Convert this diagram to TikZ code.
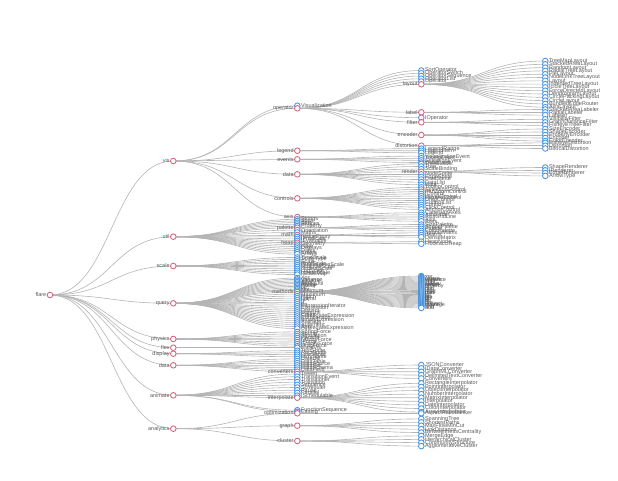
\documentclass[tikz,border=0pt]{standalone}
\usepackage{fontspec}
\setmainfont{Liberation Sans}
\usetikzlibrary{calc}
\pgfdeclarelayer{bg}
\pgfsetlayers{bg,main}
\definecolor{linkc}{HTML}{B4B4B4}
\definecolor{innerc}{HTML}{D9627C}
\definecolor{leafc}{HTML}{4A94DE}
\definecolor{txtc}{HTML}{5A5A5A}
\tikzset{
 treenode/.style={circle, inner sep=0pt, minimum size=5.6pt, line width=0.85pt, fill=white, label distance=0.8pt},
 inode/.style={treenode, draw=innerc},
 lnode/.style={treenode, draw=leafc},
 lab/.style={font=\fontsize{5.5}{6.5}\selectfont, text=txtc, inner sep=0.3pt},
 link/.style={draw=linkc, line width=0.6pt},
}
\newcommand\lnk[2]{\draw[link] let \p1=(#1.center),\p2=(#2.center) in (\p1) .. controls ({(\x1+\x2)/2},\y1) and ({(\x1+\x2)/2},\y2) .. (\p2);}
\newcommand\NIdraw[5]{\node[inode,label={[lab]left:#5}] (#1) at (#3,#4) {};}
\newcommand\NLdraw[5]{\node[lnode,label={[lab]right:#5}] (#1) at (#3,#4) {};}
\newcommand\LinkOnly[5]{\lnk{#2}{#1}}
\newcommand\Kids[5]{\foreach \nm [count=\ii from 0] in {#5} {\NL{#1-\nm}{#1}{#2}{#3+#4*\ii}{\nm}}}
\newcommand\TreeData{%
% depth 1
\NI{vis}{flare}{173.3}{161}{vis}
\NI{util}{flare}{173.3}{236.7}{util}
\NI{scale}{flare}{173.3}{266}{scale}
\NI{query}{flare}{173.3}{303.3}{query}
\NI{physics}{flare}{173.3}{339}{physics}
\NI{flex}{flare}{173.3}{347.7}{flex}
\NI{display}{flare}{173.3}{353.7}{display}
\NI{data}{flare}{173.3}{365.3}{data}
\NI{animate}{flare}{173.3}{395.3}{animate}
\NI{analytics}{flare}{173.3}{428.7}{analytics}
% depth 2 : vis
\NL{Visualization}{vis}{297.3}{105.7}{Visualization}
\NI{operator}{vis}{297.3}{108.3}{operator}
\NI{legend}{vis}{297.3}{150.7}{legend}
\NI{events}{vis}{297.3}{159.3}{events}
\NI{vdata}{vis}{297.3}{174.3}{data}
\NI{controls}{vis}{297.3}{198.3}{controls}
\NI{axis}{vis}{297.3}{217}{axis}
% depth 2 : util
\Kids{util}{297.3}{219.3}{1.68}{Strings,Stats,Sort,Shapes,Property}
\NI{palette}{util}{297.3}{227.7}{palette}
\Kids{util}{297.3}{230.1}{2.4}{Orientation,Maths}
\NI{math}{util}{297.3}{235}{math}
\Kids{util}{297.3}{236.9}{1.95}{IValueProxy,IPredicate,IEvaluable}
\NI{heap}{util}{297.3}{242.7}{heap}
\Kids{util}{297.3}{244.6}{1.9}{Geometry,Filter,Displays,Dates,Colors,Arrays}
% depth 2 : scale
\Kids{scale}{297.3}{257.45}{1.9}{TimeScale,ScaleType,Scale,RootScale,QuantitativeScale,QuantileScale,OrdinalScale,LogScale,LinearScale,IScaleMap}
% depth 2 : query
\Kids{query}{297.3}{278}{1.4}{Xor,Variance,Variable,Sum,StringUtil,Range,Query,Or,Not,Minimum}
\NI{methods}{query}{297.3}{292}{methods}
\Kids{query}{297.3}{294.03}{2.03}{Maximum,Match,Literal,IsA,If,Fn,ExpressionIterator,Expression,Distinct,DateUtil,Count,CompositeExpression,Comparison,BinaryExpression,Average,Arithmetic,And,AggregateExpression}
% depth 2 : physics, flex, display, data, animate, analytics
\Kids{physics}{297.3}{331.9}{2.03}{SpringForce,Spring,Simulation,Particle,NBodyForce,IForce,GravityForce,DragForce}
\NL{FlareVis}{flex}{297.3}{347.7}{FlareVis}
\Kids{display}{297.3}{350.7}{2}{TextSprite,RectSprite,LineSprite,DirtySprite}
\Kids{data}{297.3}{358.9}{2.13}{DataUtil,DataTable,DataSource,DataSet,DataSchema,DataField}
\NI{converters}{data}{297.3}{371.7}{converters}
\Kids{animate}{297.3}{374}{2.7}{Tween,TransitionEvent,Transitioner,Transition,Sequence,Scheduler,Pause,Parallel,ISchedulable}
\NI{interpolate}{animate}{297.3}{397.7}{interpolate}
\NL{FunctionSequence}{animate}{297.3}{410.2}{FunctionSequence}
\NL{Easing}{animate}{297.3}{411.8}{Easing}
\NI{optimization}{analytics}{297.3}{413.3}{optimization}
\NI{graph}{analytics}{297.3}{425.7}{graph}
\NI{cluster}{analytics}{297.3}{441}{cluster}
% depth 3 : operator
\Kids{operator}{421.3}{70.5}{2.75}{SortOperator,OperatorSwitch,OperatorSequence,OperatorList,Operator}
\NI{layout}{operator}{421.3}{84.3}{layout}
\NI{label}{operator}{421.3}{112.3}{label}
\NL{IOperator}{operator}{421.3}{117.7}{IOperator}
\NI{filter}{operator}{421.3}{122.3}{filter}
\NI{encoder}{operator}{421.3}{135}{encoder}
\NI{distortion}{operator}{421.3}{145.7}{distortion}
% depth 3 : other vis
\Kids{legend}{421.3}{148.6}{2.1}{LegendRange,LegendItem,Legend}
\Kids{events}{421.3}{156.1}{2.13}{VisualizationEvent,TooltipEvent,SelectionEvent,DataEvent}
\Kids{vdata}{421.3}{163.9}{2.6}{TreeBuilder,Tree,ScaleBinding}
\NI{render}{vdata}{421.3}{171.7}{render}
\Kids{vdata}{421.3}{174.3}{2.6}{NodeSprite,EdgeSprite,DataSprite,DataList,Data}
\Kids{controls}{421.3}{187.3}{2.2}{TooltipControl,SelectionControl,PanZoomControl,IControl,HoverControl,ExpandControl,DragControl,ControlList,Control,ClickControl,AnchorControl}
\Kids{axis}{421.3}{212.7}{2.13}{CartesianAxes,AxisLabel,AxisGridLine,Axis,Axes}
% depth 3 : util
\Kids{palette}{421.3}{224.5}{2.13}{SizePalette,ShapePalette,Palette,ColorPalette}
\Kids{math}{421.3}{232.9}{2.1}{SparseMatrix,IMatrix,DenseMatrix}
\Kids{heap}{421.3}{241.6}{2.2}{HeapNode,FibonacciHeap}
% depth 3 : query methods
\NL{methods-us}{methods}{421.3}{276}{\_}
\Kids{methods}{421.3}{277.03}{1.03}{xor,where,variance,update,sum,sub,stddev,select,range,orderby,or,not,neq,mul,mod,min,max,lte,lt,isa,iff,gte,gt,fn,eq,div,distinct,count,average,and,add}
% depth 3 : data, animate, analytics
\Kids{converters}{421.3}{365}{3.35}{JSONConverter,IDataConverter,GraphMLConverter,DelimitedTextConverter,Converters}
\Kids{interpolate}{421.3}{383.3}{3.6}{RectangleInterpolator,PointInterpolator,ObjectInterpolator,NumberInterpolator,MatrixInterpolator,Interpolator,DateInterpolator,ColorInterpolator,ArrayInterpolator}
\NL{AspectRatioBanker}{optimization}{421.3}{413.3}{AspectRatioBanker}
\Kids{graph}{421.3}{418.9}{3.4}{SpanningTree,ShortestPaths,MaxFlowMinCut,LinkDistance,BetweennessCentrality}
\Kids{cluster}{421.3}{435.9}{3.4}{MergeEdge,HierarchicalCluster,CommunityStructure,AgglomerativeCluster}
% depth 4
\Kids{layout}{545.3}{61}{3.3}{TreeMapLayout,StackedAreaLayout,RandomLayout,RadialTreeLayout,PieLayout,NodeLinkTreeLayout,Layout,IndentedTreeLayout,IcicleTreeLayout,ForceDirectedLayout,DendrogramLayout,CirclePackingLayout,CircleLayout,BundledEdgeRouter,AxisLayout}
\Kids{label}{545.3}{109.5}{2.8}{StackedAreaLabeler,RadialLabeler,Labeler}
\Kids{filter}{545.3}{119.3}{3}{VisibilityFilter,GraphDistanceFilter,FisheyeTreeFilter}
\Kids{encoder}{545.3}{129}{3}{SizeEncoder,ShapeEncoder,PropertyEncoder,Encoder,ColorEncoder}
\Kids{distortion}{545.3}{142.9}{2.8}{FisheyeDistortion,Distortion,BifocalDistortion}
\Kids{render}{545.3}{167.5}{2.8}{ShapeRenderer,IRenderer,EdgeRenderer,ArrowType}
}
\begin{document}
\begin{tikzpicture}[x=1pt,y=-1pt]
\useasboundingbox (0,0) rectangle (618,480);
\node[inode,label={[lab]left:flare}] (flare) at (50,295) {};
\let\NI\NIdraw \let\NL\NLdraw
\TreeData
\begin{pgfonlayer}{bg}
\let\NI\LinkOnly \let\NL\LinkOnly
\TreeData
\end{pgfonlayer}
\end{tikzpicture}
\end{document}
